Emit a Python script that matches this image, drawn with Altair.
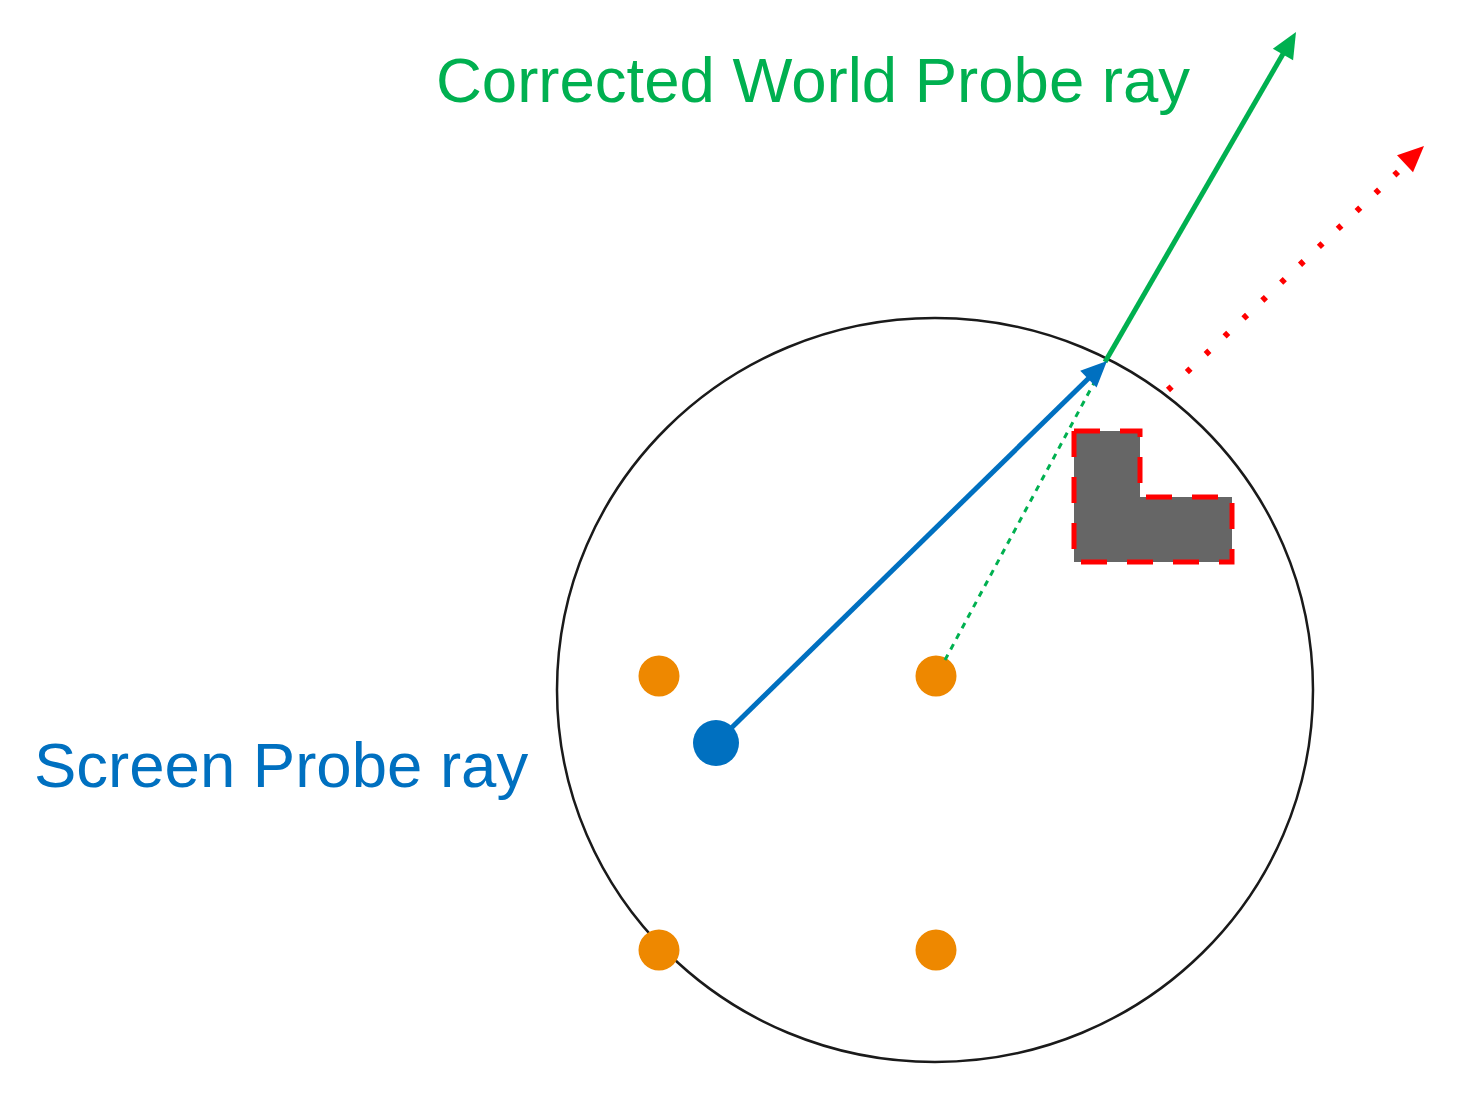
import pandas as pd
import altair as alt

# whole picture is drawn in picture pixels (x right, y down)
X_DOM = [8, 1472]
Y_DOM = [1092, 8]

# probe sphere (center, half-width)
sphere_x = [935]
sphere_y = [690]

# grid probes (orange) and the screen probe (blue)
probe_x = [659, 936, 659, 936]
probe_y = [676, 676, 950, 950]
screen_x = [716]
screen_y = [743]

# rays: start -> end
blue_ray = {"x": [716], "y": [743], "x2": [1094], "y2": [373]}
green_ray = {"x": [1105], "y": [362], "x2": [1287], "y2": [47]}
green_hint = {"x": [945], "y": [660], "x2": [1102], "y2": [368]}
red_ray = {"x": [1168], "y": [390], "x2": [1402], "y2": [168]}

# arrow tips and headings (degrees clockwise from up)
tip_x = [1107, 1296, 1424]
tip_y = [361, 32, 146]
tip_angle = [45.7, 30.1, 46.9]

# L-shaped occluder
occ_x = [1074, 1140]
occ_x2 = [1140, 1232]
occ_y = [431, 497]
occ_y2 = [562, 562]
outline_x = [1074, 1140, 1140, 1232, 1232, 1074, 1074]
outline_y = [431, 431, 497, 497, 562, 562, 431]

# labels
labels = ["Corrected World Probe ray", "Screen Probe ray"]
label_x = [436, 34]
label_y = [102, 787]

xs = alt.Scale(domain=X_DOM, nice=False, zero=False)
ys = alt.Scale(domain=Y_DOM, nice=False, zero=False)


def pos(x="x", y="y"):
    return dict(x=alt.X(x + ":Q", scale=xs, axis=None), y=alt.Y(y + ":Q", scale=ys, axis=None))


def ray(d, color, width, dash=None):
    m = dict(color=color, strokeWidth=width, strokeCap="butt")
    if dash:
        m["strokeDash"] = dash
    return alt.Chart(pd.DataFrame(d)).mark_rule(**m).encode(
        **pos(), x2="x2:Q", y2="y2:Q"
    )


sphere = alt.Chart(pd.DataFrame({"x": sphere_x, "y": sphere_y})).mark_point(
    shape="M-1,0A1,0.984,0,1,1,1,0A1,0.984,0,1,1,-1,0Z",
    size=756 * 756, filled=False, color="#1a1a1a", strokeWidth=2.5, opacity=1
).encode(**pos())

occ = alt.Chart(pd.DataFrame({"x": occ_x, "x2": occ_x2, "y": occ_y, "y2": occ_y2})).mark_rect(
    color="#666666"
).encode(**pos(), x2="x2:Q", y2="y2:Q")

outline = alt.Chart(pd.DataFrame({"x": outline_x, "y": outline_y, "i": range(len(outline_x))})).mark_line(
    color="#ff0000", strokeWidth=5, strokeDash=[26, 20], strokeCap="butt"
).encode(**pos(), order="i:O")

probes = alt.Chart(pd.DataFrame({"x": probe_x, "y": probe_y})).mark_point(
    shape="circle", size=41 * 41, filled=True, color="#ee8800", opacity=1
).encode(**pos())

screen = alt.Chart(pd.DataFrame({"x": screen_x, "y": screen_y})).mark_point(
    shape="circle", size=46 * 46, filled=True, color="#0070c0", opacity=1
).encode(**pos())

tips = pd.DataFrame({"x": tip_x, "y": tip_y, "a": tip_angle, "c": ["#0070c0", "#00b050", "#ff0000"]})
heads = alt.Chart(tips).mark_point(
    shape="M0,0L0.45,1L-0.45,1Z", size=52 * 52, filled=True, opacity=1
).encode(**pos(), angle=alt.Angle("a:Q", scale=None), color=alt.Color("c:N", scale=None))

lab_df = pd.DataFrame({"t": labels, "x": label_x, "y": label_y, "c": ["#00b050", "#0070c0"]})
text = alt.Chart(lab_df).mark_text(
    align="left", baseline="alphabetic", font="Liberation Sans", fontSize=63.5
).encode(**pos(), text="t:N", color=alt.Color("c:N", scale=None))

chart = alt.layer(
    sphere,
    occ,
    outline,
    probes,
    ray(green_hint, "#00b050", 3, [6, 6]),
    ray(red_ray, "#ff0000", 6, [5, 21]),
    ray(green_ray, "#00b050", 5),
    ray(blue_ray, "#0070c0", 5),
    screen,
    heads,
    text,
).properties(width=1464, height=1084, padding=0, background="white").configure_view(stroke=None)

chart.save("out.html", embed_options={"renderer": "svg", "actions": False})
